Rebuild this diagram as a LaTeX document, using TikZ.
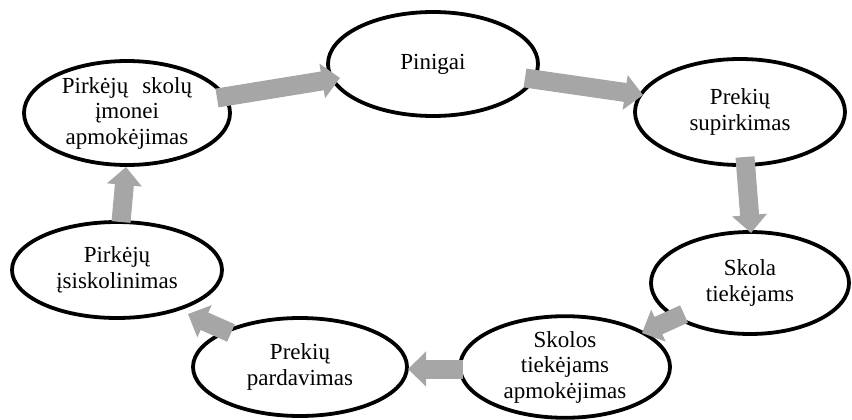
\documentclass[tikz,border=0pt]{standalone}
\usepackage{fontspec}
\setmainfont{Liberation Serif}
\usetikzlibrary{shapes.geometric,arrows.meta,calc}
\definecolor{arrowgray}{HTML}{A6A6A6}
\tikzset{
  cyc/.style={ellipse, draw=black, line width=3.8pt, fill=white, inner sep=0pt,
    align=center, font=\fontsize{23}{25.5}\selectfont},
  flow/.style={draw=arrowgray, line width=19pt,
    -{Triangle[length=18pt,width=34pt]}, arrowgray}
}
\begin{document}
\begin{tikzpicture}[x=1pt,y=-1pt]
\useasboundingbox (0,0) rectangle (852,420);
\node[cyc, minimum width=206pt, minimum height=104pt] (A) at (127,113) {Pirkėjų\hspace{14pt}skolų\\įmonei\\apmokėjimas};
\node[cyc, minimum width=210pt, minimum height=104pt] (P) at (433,64) {Pinigai};
\node[cyc, minimum width=210pt, minimum height=106pt] (S) at (740,112) {Prekių\\supirkimas};
\node[cyc, minimum width=198pt, minimum height=102pt] (K) at (750,283) {Skola\\tiekėjams};
\node[cyc, minimum width=210pt, minimum height=100pt] (T) at (565,367) {Skolos\\tiekėjams\\apmokėjimas};
\node[cyc, minimum width=214pt, minimum height=98pt] (D) at (300,367) {Prekių\\pardavimas};
\node[cyc, minimum width=210pt, minimum height=96pt] (I) at (117,270) {Pirkėjų\\įsiskolinimas};
\draw[flow] ($(A)+(90,-15)$) -- ($(P)+(-93,14)$);
\draw[flow] ($(P)+(92,14)$) -- ($(S)+(-97,-17)$);
\draw[flow] ($(S)+(5,45)$) -- ($(K)+(1,-50)$);
\draw[flow] ($(K)+(-66,31)$) -- ($(T)+(77,-34)$);
\draw[flow] ($(T)+(-102,2)$) -- ($(D)+(108,2)$);
\draw[flow] ($(D)+(-69,-34)$) -- ($(I)+(71,44)$);
\draw[flow] ($(I)+(4,-48)$) -- ($(A)+(-1,54)$);
\end{tikzpicture}
\end{document}
